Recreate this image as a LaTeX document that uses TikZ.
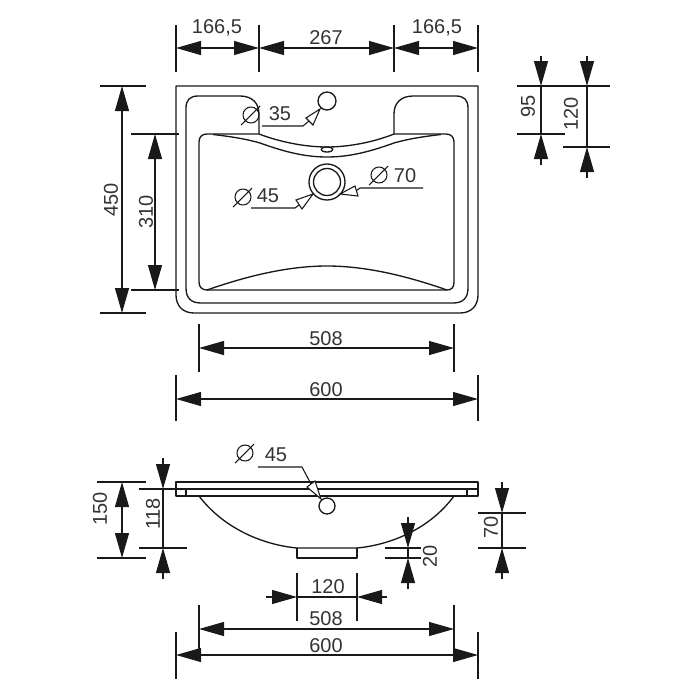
\documentclass[tikz,border=0pt]{standalone}
\usepackage{fontspec}
\setmainfont{Liberation Sans}
\usetikzlibrary{arrows.meta}
\definecolor{inkline}{rgb}{0.1,0.1,0.1}
\definecolor{inktext}{rgb}{0.2,0.2,0.2}
\tikzset{
  part/.style={draw=inkline,line width=1pt,line join=round},
  dimline/.style={draw=inkline,line width=0.8pt},
  bothtips/.style={dimline,{Triangle[length=18.75pt,width=10.5pt]}-{Triangle[length=18.75pt,width=10.5pt]}},
  endtip/.style={dimline,-{Triangle[length=18.75pt,width=10.5pt]}},
  hollowtip/.style={draw=inkline,line width=0.8pt,fill=white,line join=miter},
  dimtext/.style={inner sep=0pt,text=inktext,font=\fontsize{15}{18}\selectfont},
  dimtextv/.style={dimtext,rotate=90},
}
\begin{document}
\begin{tikzpicture}[x=0.75pt,y=0.75pt,yscale=-1,xscale=1]
\useasboundingbox (0,0) rectangle (700,700);

%Plan: outer edge
\draw [part] (176,86) -- (478,86) -- (478,295) .. controls (478,306) and (471,313) .. (460,313) -- (194,313) .. controls (183,313) and (176,306) .. (176,295) -- cycle ;
%Plan: rim
\draw [part] (259,134) -- (259,114) .. controls (259,103) and (252,96) .. (240,96) -- (198,96) .. controls (190,96) and (186,100) .. (186,108) -- (186,288) .. controls (186,298) and (191,303) .. (201,303) -- (453,303) .. controls (463,303) and (468,298) .. (468,288) -- (468,108) .. controls (468,100) and (464,96) .. (456,96) -- (413,96) .. controls (401,96) and (394,103) .. (394,114) -- (394,134) ;
%Plan: basin
\draw [part] (259,134) -- (207,134) .. controls (202,134) and (199,137) .. (199,142) -- (199,282) .. controls (199,287) and (202,290) .. (207,290) -- (447,290) .. controls (452,290) and (454,287) .. (454,282) -- (454,142) .. controls (454,137) and (451,134) .. (446,134) -- (394,134) ;
%Plan: basin curves
\draw [part] (259,134) .. controls (280,142) and (305,147) .. (327,147) .. controls (349,147) and (374,142) .. (394,134) ;
\draw [part] (213,134.5) .. controls (235,137) and (250,140) .. (260,143) .. controls (285,152) and (305,157) .. (327,157) .. controls (349,157) and (369,152) .. (394,143) .. controls (404,140) and (419,137) .. (441,134.5) ;
\draw [part] (207,290) .. controls (250,275) and (290,266) .. (327,266) .. controls (364,266) and (404,275) .. (447,290) ;
%Plan: holes
\draw [part] (327,149.5) ellipse (6 and 2.5) ;
\draw [part] (327,101) circle (9) ;
\draw [part] (327,182) circle (18) ;
\draw [part] (327,182) circle (13.5) ;

%Section: rim and bowl
\draw [part] (176,482) rectangle (478,496) ;
\draw [part] (176,489) -- (478,489) ;
\draw [part] (186,489) -- (186,496) ;
\draw [part] (467,489) -- (467,496) ;
\draw [part] (199,496) .. controls (225,530) and (265,545) .. (297,548) -- (357,548) .. controls (389,545) and (429,530) .. (454,496) ;
\draw [part] (297,548) -- (297,558) -- (357,558) -- (357,548) ;
\draw [part] (327,506) circle (8) ;

%Top row
\draw [dimline] (176,25) -- (176,72) ;
\draw [dimline] (259,25) -- (259,72) ;
\draw [dimline] (394,25) -- (394,72) ;
\draw [dimline] (478,25) -- (478,72) ;
\draw [bothtips] (176,48) -- (259,48) ;
\draw [bothtips] (259,48) -- (394,48) ;
\draw [bothtips] (394,48) -- (478,48) ;
%450
\draw [dimline] (100,86) -- (146,86) ;
\draw [dimline] (100,313) -- (146,313) ;
\draw [bothtips] (122,86) -- (122,313) ;
%310
\draw [dimline] (131,134) -- (179,134) ;
\draw [dimline] (131,290) -- (179,290) ;
\draw [bothtips] (155,134) -- (155,290) ;
%508 and 600 under plan
\draw [dimline] (199,324) -- (199,372) ;
\draw [dimline] (454,324) -- (454,372) ;
\draw [bothtips] (199,348) -- (454,348) ;
\draw [dimline] (176,375) -- (176,421) ;
\draw [dimline] (478,375) -- (478,421) ;
\draw [bothtips] (176,399) -- (478,399) ;
%95 and 120 at right
\draw [dimline] (517,86) -- (610,86) ;
\draw [dimline] (517,134) -- (565,134) ;
\draw [dimline] (563,147) -- (610,147) ;
\draw [dimline] (541,86) -- (541,134) ;
\draw [endtip] (541,56) -- (541,86) ;
\draw [endtip] (541,165) -- (541,134) ;
\draw [dimline] (587,86) -- (587,147) ;
\draw [endtip] (587,56) -- (587,86) ;
\draw [endtip] (587,178) -- (587,147) ;

%150
\draw [dimline] (97,482) -- (146,482) ;
\draw [dimline] (97,558) -- (146,558) ;
\draw [bothtips] (122,482) -- (122,558) ;
%118
\draw [dimline] (139,489) -- (176,489) ;
\draw [dimline] (139,548) -- (187,548) ;
\draw [dimline] (163,489) -- (163,548) ;
\draw [endtip] (163,458) -- (163,489) ;
\draw [endtip] (163,579) -- (163,548) ;
%20
\draw [dimline] (385,548) -- (421,548) ;
\draw [dimline] (385,558) -- (421,558) ;
\draw [dimline] (408,548) -- (408,558) ;
\draw [endtip] (408,517) -- (408,548) ;
\draw [endtip] (408,589) -- (408,558) ;
%70
\draw [dimline] (478,513) -- (526,513) ;
\draw [dimline] (478,548) -- (526,548) ;
\draw [dimline] (502,513) -- (502,548) ;
\draw [endtip] (502,482) -- (502,513) ;
\draw [endtip] (502,579) -- (502,548) ;
%120, 508 and 600 under section
\draw [dimline] (297,573) -- (297,621) ;
\draw [dimline] (357,573) -- (357,621) ;
\draw [dimline] (297,597) -- (357,597) ;
\draw [endtip] (266,597) -- (297,597) ;
\draw [endtip] (387,597) -- (357,597) ;
\draw [dimline] (199,605) -- (199,652) ;
\draw [dimline] (454,605) -- (454,652) ;
\draw [bothtips] (199,629) -- (454,629) ;
\draw [dimline] (176,632) -- (176,679) ;
\draw [dimline] (478,632) -- (478,679) ;
\draw [bothtips] (176,655) -- (478,655) ;

%Leaders with hollow tips
\draw [dimline] (262,126) -- (303,126) -- (309,121) ;
\draw [hollowtip] (306,118) -- (320,109) -- (313,125) -- cycle ;
\draw [dimline] (423,188) -- (360,188) -- (356,191) ;
\draw [hollowtip] (355,186) -- (340,194) -- (358,196) -- cycle ;
\draw [dimline] (251,208) -- (295,208) -- (299,205) ;
\draw [hollowtip] (296,200) -- (313,194) -- (302,209) -- cycle ;
\draw [dimline] (258,467) -- (302,467) -- (311,484) ;
\draw [hollowtip] (315,481) -- (321,499) -- (307,487) -- cycle ;

%Diameter signs
\draw [dimline] (251,115) circle (8) (241,125) -- (260,106) ;
\draw [dimline] (379,175) circle (8) (369,185) -- (388,166) ;
\draw [dimline] (243,197) circle (8) (233,207) -- (252,188) ;
\draw [dimline] (245,453) circle (8) (235,463) -- (254,444) ;

% Text Node
\node (lblLeft) [dimtext] at (217,27.5) {166,5};
\node (lblMid) [dimtext] at (326,38) {267};
\node (lblRight) [dimtext] at (437,28) {166,5};
\node (lblDepth) [dimtextv] at (111,200) {450};
\node (lblBasin) [dimtextv] at (146,212) {310};
\node (lblDiaTap) [dimtext] at (280,114) {35};
\node (lblDiaRing) [dimtext] at (405,176) {70};
\node (lblDiaDrain) [dimtext] at (268,196) {45};
\node (lblBasinW) [dimtext] at (326,338.5) {508};
\node (lblWidth) [dimtext] at (326,389.5) {600};
\node (lblSetA) [dimtextv] at (528,106) {95};
\node (lblSetB) [dimtextv] at (571,114) {120};
\node (lblDiaSec) [dimtext] at (276,455) {45};
\node (lblHeight) [dimtextv] at (100,509) {150};
\node (lblBowl) [dimtextv] at (153,514) {118};
\node (lblFoot) [dimtextv] at (430,556) {20};
\node (lblHole) [dimtextv] at (491,527) {70};
\node (lblFootW) [dimtext] at (328,587) {120};
\node (lblBasinS) [dimtext] at (326,619) {508};
\node (lblWidthS) [dimtext] at (326,646) {600};

\end{tikzpicture}
\end{document}
